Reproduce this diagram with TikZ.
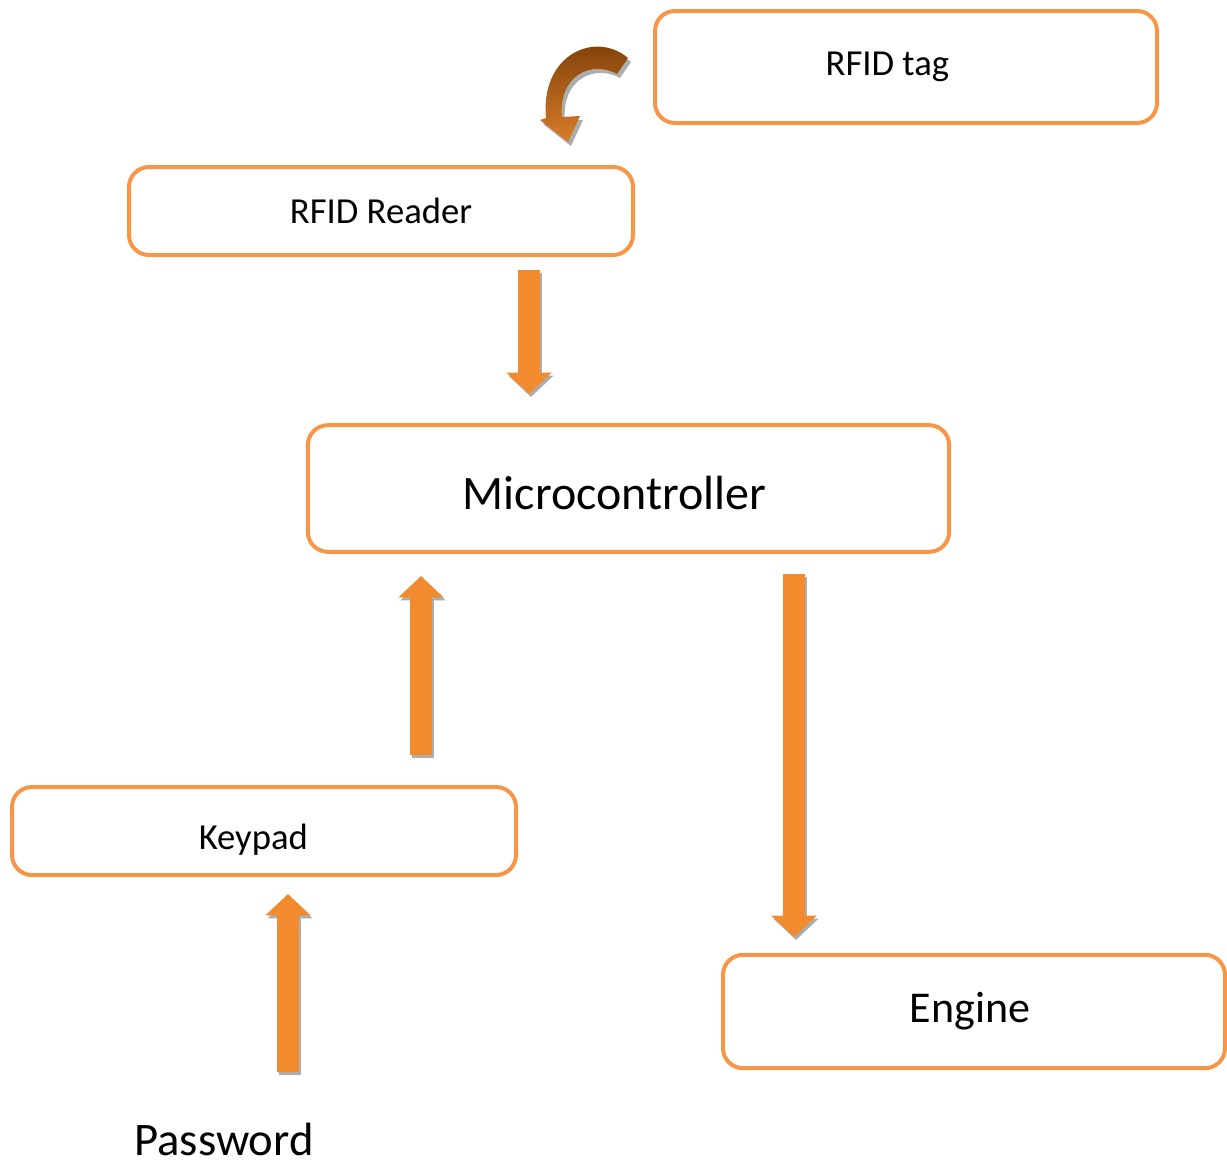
\documentclass[tikz,border=0pt]{standalone}
\usepackage{fontspec}
\setmainfont{Carlito}
\usetikzlibrary{arrows.meta}
\definecolor{boxorange}{RGB}{247,150,70}
\definecolor{arrorange}{RGB}{241,139,45}
\definecolor{arrbrown}{RGB}{118,58,6}
\tikzset{
  blk/.style={draw=boxorange, line width=3pt, rounded corners=15pt, inner sep=0pt},
  smalltxt/.style={font=\fontsize{27.5}{30}\selectfont},
  bigtxt/.style={font=\fontsize{36}{40}\selectfont},
  blockarr/.style={draw=arrorange, line width=16.5pt, -{Triangle[length=16pt,width=33pt]}},
  arrshadow/.style={draw=black!32, line width=16.5pt, -{Triangle[length=16pt,width=33pt]}}
}
\begin{document}
\begin{tikzpicture}[x=0.75pt,y=-0.75pt]
\useasboundingbox (0,0) rectangle (1227,1165);

\node[blk, smalltxt, minimum width=376.5pt, minimum height=84pt] (tag) at (906,67) {RFID tag\hspace*{28pt}};
\node[blk, smalltxt, minimum width=378pt, minimum height=66pt] (reader) at (381,211) {RFID Reader};
\node[blk, bigtxt, minimum width=481pt, minimum height=95pt] (mcu) at (628.5,488.5) {\raisebox{-3pt}[\height][0pt]{Microcontroller}\hspace*{21pt}};
\node[blk, smalltxt, minimum width=378pt, minimum height=66pt] (keypad) at (264,831) {\raisebox{-4pt}[\height][0pt]{Keypad}\hspace*{16pt}};
\node[blk, font=\fontsize{33}{38}\selectfont, minimum width=376.5pt, minimum height=85pt] (engine) at (974,1011.5) {Engine\hspace*{6pt}};
\node[font=\fontsize{35}{40}\selectfont, inner sep=0pt] (pwd) at (224,1139) {Password};

% block arrows
\coordinate (r1) at (529,270);  \coordinate (r2) at (529,394);
\coordinate (k1) at (421,755);  \coordinate (k2) at (421,576);
\coordinate (m1) at (794,574);  \coordinate (m2) at (794,937);
\coordinate (p1) at (288,1072); \coordinate (p2) at (288,894);
\foreach \s/\e in {r1/r2, k1/k2, m1/m2, p1/p2} {
  \draw[arrshadow] ([shift={(2,3)}]\s) -- ([shift={(2,3)}]\e);
  \draw[blockarr] (\s) -- (\e);
}

% curved arrow from tag to reader
\fill[black!32, shift={(3,4)}] (628,58) .. controls (595,30) and (540,55) .. (546,118)
  -- (540,120) -- (568,142) -- (580,116) -- (562,117)
  .. controls (558,75) and (592,60) .. (617,74) -- cycle;
\shade[top color=arrbrown, bottom color=arrorange!90!black] (628,58) .. controls (595,30) and (540,55) .. (546,118)
  -- (540,120) -- (568,142) -- (580,116) -- (562,117)
  .. controls (558,75) and (592,60) .. (617,74) -- cycle;
\end{tikzpicture}
\end{document}
